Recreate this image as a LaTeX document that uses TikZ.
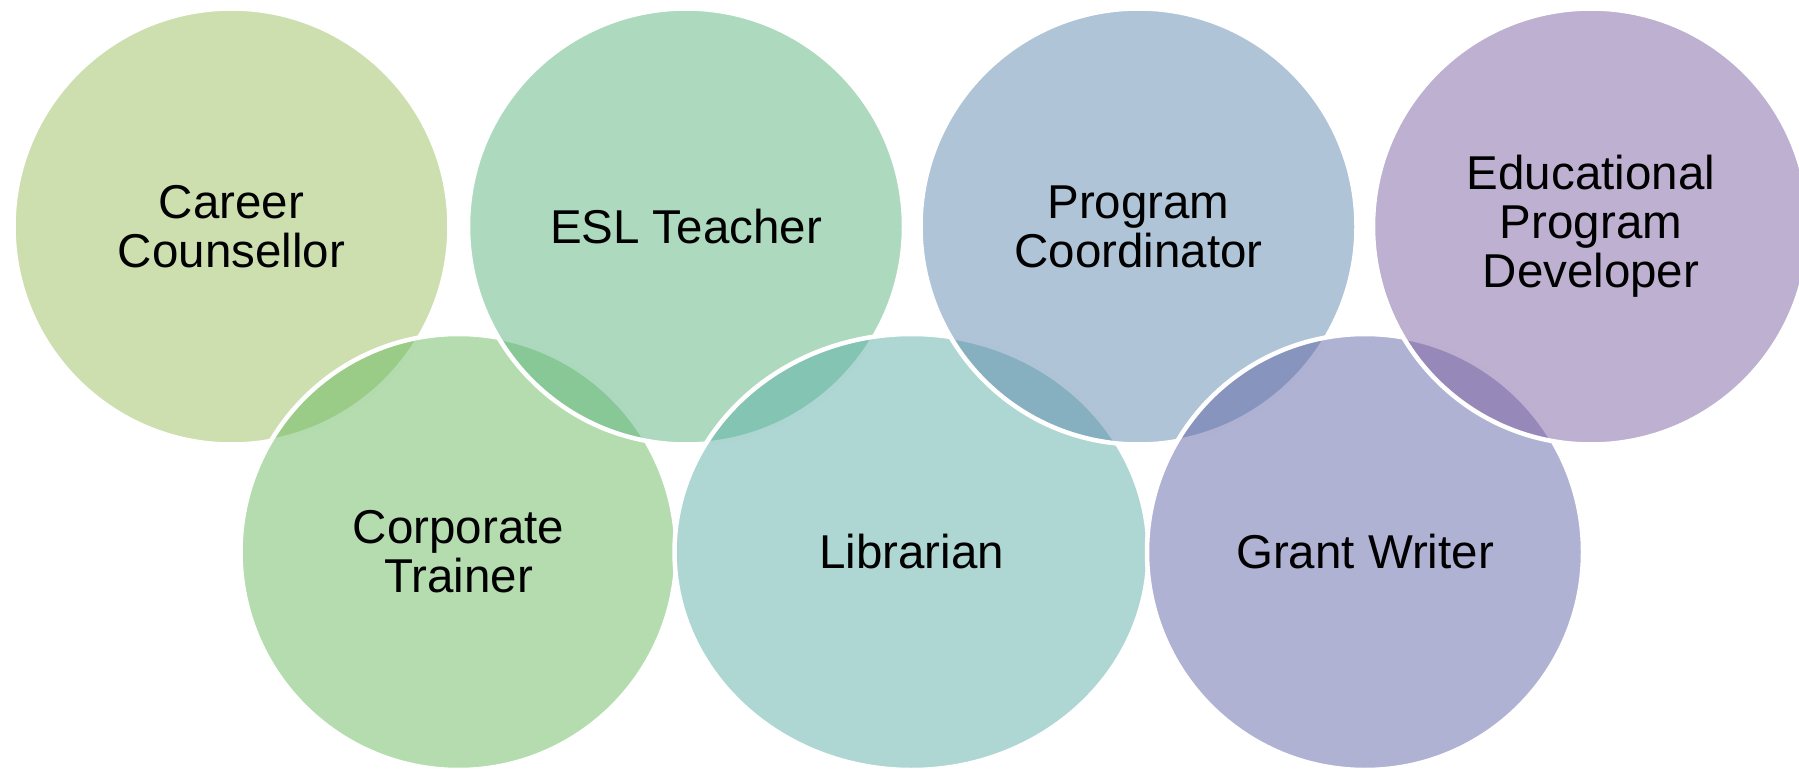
\documentclass[tikz,border=0pt]{standalone}
\usepackage{fontspec}
\setmainfont{Liberation Sans}
\usetikzlibrary{shapes.geometric}
\definecolor{cCareer}{RGB}{155,189,95}
\definecolor{cESL}{RGB}{91,181,125}
\definecolor{cProg}{RGB}{95,137,173}
\definecolor{cEdu}{RGB}{125,97,161}
\definecolor{cCorp}{RGB}{105,185,95}
\definecolor{cLib}{RGB}{93,175,167}
\definecolor{cGrant}{RGB}{97,101,167}
\tikzset{
  bubble/.style={circle, minimum size=436pt, inner sep=0pt, fill=#1, fill opacity=0.5,
    draw=white, draw opacity=1, line width=4.5pt, text opacity=1, text=black,
    align=center, font=\fontsize{47.5}{49}\selectfont},
  wide bubble/.style={bubble=#1, ellipse, minimum width=474pt, minimum height=436pt}
}
\begin{document}
\begin{tikzpicture}[x=1pt,y=-1pt]
\useasboundingbox (0,0) rectangle (1799,770);
\node[bubble=cCareer] (career) at (231.5,226.5) {Career\\Counsellor};
\node[bubble=cCorp] (corp) at (458.5,552) {Corporate\\Trainer};
\node[bubble=cESL] (esl) at (686,226.5) {ESL Teacher};
\node[wide bubble=cLib] (lib) at (911.5,552) {Librarian};
\node[bubble=cProg] (prog) at (1138.5,226.5) {Program\\Coordinator};
\node[bubble=cGrant] (grant) at (1365,552) {Grant Writer};
\node[bubble=cEdu] (edu) at (1591,226.5) {Educational\\Program\\Developer};
\end{tikzpicture}
\end{document}
